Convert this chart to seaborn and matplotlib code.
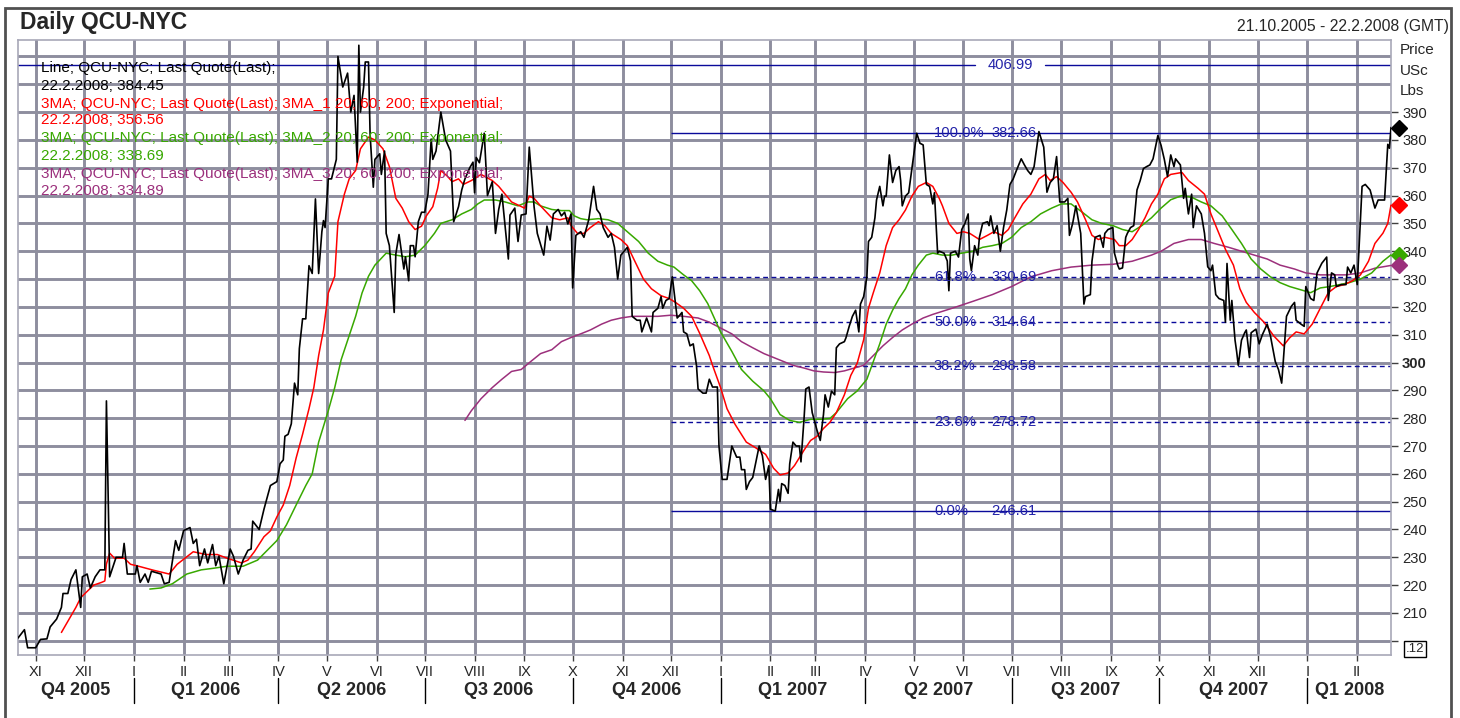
import pandas as pd
import matplotlib
matplotlib.use("Agg")
import matplotlib.pyplot as plt
import matplotlib.transforms as mtransforms
from matplotlib.patches import Rectangle
import seaborn as sns

# ==============================================================================
# Daily QCU-NYC (copper, USc/Lbs) with 20/60/200 exponential MAs and a
# Fibonacci retracement.
# ==============================================================================

# ------------------------- Price (Last Quote) -------------------------
price_dates = [
    "2005-10-21", "2005-10-25", "2005-10-27", "2005-11-01", "2005-11-04", "2005-11-08", "2005-11-10",
    "2005-11-14", "2005-11-17", "2005-11-18", "2005-11-21", "2005-11-23", "2005-11-26", "2005-11-27",
    "2005-11-29", "2005-11-30", "2005-12-03", "2005-12-05", "2005-12-08", "2005-12-11", "2005-12-14",
    "2005-12-15", "2005-12-17", "2005-12-21", "2005-12-25", "2005-12-26", "2005-12-28", "2006-01-02",
    "2006-01-03", "2006-01-05", "2006-01-08", "2006-01-10", "2006-01-12", "2006-01-18", "2006-01-20",
    "2006-01-23", "2006-01-27", "2006-01-29", "2006-02-01", "2006-02-05", "2006-02-07", "2006-02-09",
    "2006-02-11", "2006-02-14", "2006-02-16", "2006-02-19", "2006-02-21", "2006-02-23", "2006-02-26",
    "2006-03-02", "2006-03-04", "2006-03-07", "2006-03-10", "2006-03-13", "2006-03-15", "2006-03-16",
    "2006-03-20", "2006-03-23", "2006-03-27", "2006-03-31", "2006-04-02", "2006-04-04", "2006-04-05",
    "2006-04-07", "2006-04-09", "2006-04-11", "2006-04-13", "2006-04-14", "2006-04-16", "2006-04-18",
    "2006-04-20", "2006-04-22", "2006-04-24", "2006-04-26", "2006-04-28", "2006-04-29", "2006-04-30",
    "2006-05-02", "2006-05-04", "2006-05-07", "2006-05-08", "2006-05-11", "2006-05-14", "2006-05-16",
    "2006-05-18", "2006-05-20", "2006-05-21", "2006-05-22", "2006-05-24", "2006-05-25", "2006-05-27",
    "2006-05-28", "2006-05-30", "2006-05-31", "2006-06-03", "2006-06-04", "2006-06-06", "2006-06-07",
    "2006-06-09", "2006-06-12", "2006-06-13", "2006-06-15", "2006-06-18", "2006-06-19", "2006-06-21",
    "2006-06-22", "2006-06-24", "2006-06-25", "2006-06-27", "2006-06-29", "2006-07-01", "2006-07-03",
    "2006-07-05", "2006-07-06", "2006-07-08", "2006-07-11", "2006-07-14", "2006-07-17", "2006-07-19",
    "2006-07-22", "2006-07-24", "2006-07-26", "2006-07-29", "2006-07-31", "2006-08-01", "2006-08-02",
    "2006-08-04", "2006-08-07", "2006-08-09", "2006-08-12", "2006-08-14", "2006-08-16", "2006-08-18",
    "2006-08-22", "2006-08-23", "2006-08-26", "2006-08-28", "2006-08-30", "2006-09-02", "2006-09-04",
    "2006-09-07", "2006-09-09", "2006-09-13", "2006-09-15", "2006-09-17", "2006-09-19", "2006-09-22",
    "2006-09-24", "2006-09-26", "2006-09-28", "2006-09-30", "2006-10-01", "2006-10-03", "2006-10-06",
    "2006-10-08", "2006-10-11", "2006-10-14", "2006-10-16", "2006-10-18", "2006-10-20", "2006-10-23",
    "2006-10-25", "2006-10-27", "2006-10-29", "2006-10-31", "2006-11-02", "2006-11-04", "2006-11-06",
    "2006-11-07", "2006-11-10", "2006-11-12", "2006-11-13", "2006-11-16", "2006-11-19", "2006-11-20",
    "2006-11-23", "2006-11-25", "2006-11-26", "2006-11-28", "2006-11-30", "2006-12-02", "2006-12-05",
    "2006-12-06", "2006-12-08", "2006-12-09", "2006-12-11", "2006-12-13", "2006-12-15", "2006-12-17",
    "2006-12-18", "2006-12-21", "2006-12-23", "2006-12-25", "2006-12-27", "2006-12-30", "2006-12-31",
    "2007-01-02", "2007-01-05", "2007-01-08", "2007-01-11", "2007-01-13", "2007-01-14", "2007-01-16",
    "2007-01-17", "2007-01-19", "2007-01-21", "2007-01-23", "2007-01-25", "2007-01-27", "2007-01-29",
    "2007-01-31", "2007-02-01", "2007-02-04", "2007-02-06", "2007-02-07", "2007-02-08", "2007-02-10",
    "2007-02-12", "2007-02-13", "2007-02-15", "2007-02-17", "2007-02-19", "2007-02-20", "2007-02-22",
    "2007-02-23", "2007-02-25", "2007-02-27", "2007-03-02", "2007-03-04", "2007-03-06", "2007-03-07",
    "2007-03-09", "2007-03-11", "2007-03-13", "2007-03-14", "2007-03-16", "2007-03-19", "2007-03-20",
    "2007-03-22", "2007-03-24", "2007-03-26", "2007-03-28", "2007-03-29", "2007-03-31", "2007-04-02",
    "2007-04-03", "2007-04-05", "2007-04-07", "2007-04-08", "2007-04-10", "2007-04-12", "2007-04-13",
    "2007-04-14", "2007-04-16", "2007-04-18", "2007-04-20", "2007-04-22", "2007-04-23", "2007-04-24",
    "2007-04-26", "2007-04-28", "2007-04-30", "2007-05-03", "2007-05-05", "2007-05-07", "2007-05-09",
    "2007-05-11", "2007-05-13", "2007-05-14", "2007-05-16", "2007-05-17", "2007-05-20", "2007-05-22",
    "2007-05-23", "2007-05-24", "2007-05-27", "2007-05-29", "2007-05-31", "2007-06-02", "2007-06-04",
    "2007-06-05", "2007-06-06", "2007-06-08", "2007-06-10", "2007-06-11", "2007-06-13", "2007-06-16",
    "2007-06-17", "2007-06-18", "2007-06-20", "2007-06-22", "2007-06-24", "2007-06-26", "2007-06-28",
    "2007-06-30", "2007-07-02", "2007-07-04", "2007-07-07", "2007-07-09", "2007-07-11", "2007-07-13",
    "2007-07-15", "2007-07-18", "2007-07-21", "2007-07-23", "2007-07-25", "2007-07-27", "2007-07-29",
    "2007-07-31", "2007-08-03", "2007-08-05", "2007-08-06", "2007-08-08", "2007-08-10", "2007-08-13",
    "2007-08-15", "2007-08-16", "2007-08-19", "2007-08-20", "2007-08-22", "2007-08-25", "2007-08-27",
    "2007-08-28", "2007-08-30", "2007-09-02", "2007-09-03", "2007-09-05", "2007-09-06", "2007-09-08",
    "2007-09-10", "2007-09-11", "2007-09-13", "2007-09-15", "2007-09-17", "2007-09-19", "2007-09-21",
    "2007-09-23", "2007-09-25", "2007-09-27", "2007-09-30", "2007-10-02", "2007-10-04", "2007-10-06",
    "2007-10-08", "2007-10-10", "2007-10-11", "2007-10-14", "2007-10-16", "2007-10-17", "2007-10-19",
    "2007-10-21", "2007-10-22", "2007-10-24", "2007-10-27", "2007-10-29", "2007-10-31", "2007-11-02",
    "2007-11-03", "2007-11-05", "2007-11-07", "2007-11-10", "2007-11-11", "2007-11-12", "2007-11-14",
    "2007-11-15", "2007-11-17", "2007-11-18", "2007-11-19", "2007-11-21", "2007-11-23", "2007-11-24",
    "2007-11-26", "2007-11-27", "2007-11-30", "2007-12-02", "2007-12-04", "2007-12-07", "2007-12-09",
    "2007-12-12", "2007-12-14", "2007-12-16", "2007-12-17", "2007-12-19", "2007-12-22", "2007-12-24",
    "2007-12-25", "2007-12-28", "2007-12-30", "2007-12-31", "2008-01-03", "2008-01-05", "2008-01-07",
    "2008-01-10", "2008-01-13", "2008-01-14", "2008-01-16", "2008-01-18", "2008-01-19", "2008-01-22",
    "2008-01-25", "2008-01-26", "2008-01-28", "2008-01-30", "2008-02-01", "2008-02-04", "2008-02-06",
    "2008-02-09", "2008-02-12", "2008-02-14", "2008-02-18", "2008-02-20", "2008-02-21", "2008-02-22",
]
price_vals = [
    201, 204, 197.5, 197.5, 200.5, 200.7, 205,
    207.8, 212, 217, 217, 222, 225.5, 221,
    212, 223, 224, 219, 223, 225.5, 225.5,
    286.2, 223, 230, 230, 235, 224, 224,
    227, 221, 224, 221, 225, 224, 220.5,
    221, 236, 232.5, 239.6, 240.7, 235, 236.5,
    227, 233, 228, 234.6, 227, 230.4, 220.5,
    233, 230.4, 224, 229, 232.5, 233, 243,
    240, 247.3, 255.8, 257.2, 263.6, 265, 273.5,
    274.2, 278, 292.6, 288.4, 305, 315.7, 315.7,
    334.8, 332, 358.8, 332, 347, 351, 348.5,
    366, 366, 373, 410, 399, 404, 390,
    396, 372, 414, 390, 399, 408, 408,
    382, 363, 373, 375, 367.6, 376, 346.4,
    342, 318, 339, 346, 333.6, 338, 329.4,
    342, 342, 338, 350.6, 354, 354, 360.5,
    380.3, 373, 376, 390, 380, 376, 350.6,
    356, 362, 366, 370, 372, 361, 373.7,
    371.8, 382.4, 360, 365, 346.4, 355, 360.5,
    337.2, 353, 355.5, 343.5, 353, 353.4, 377.4,
    356, 346.4, 338.6, 349, 344, 353.4, 355,
    352.7, 354, 349.8, 353.4, 326.8, 345.7, 347,
    345, 351.3, 363.3, 355, 353.4, 348.5, 345,
    346.4, 341.4, 330, 338.6, 340, 341.4, 336.5,
    316.6, 315.2, 315.2, 311, 316, 311, 318,
    319.5, 323.7, 319.5, 322.3, 323, 330.8, 316,
    316.6, 318, 311, 310.3, 306, 306.7, 299,
    290.5, 289, 289, 294, 291.2, 291.2, 270,
    258, 258, 270, 266, 266, 261.5, 261.5,
    254.4, 257.2, 258.7, 264.3, 270, 266.5, 258,
    262.9, 247.3, 246.6, 254.4, 250, 256.5, 255.8,
    253, 263.6, 271.4, 270, 270, 264.3, 280.6,
    290.5, 291.2, 282, 275.6, 272, 281.3, 288.4,
    284, 289.7, 288.4, 305.3, 306.7, 307.5, 308.9,
    313, 316.6, 318.8, 311, 321, 323.7, 330.8,
    343.5, 345, 352, 358.4, 363.3, 356.3, 359.8,
    359.8, 374.6, 364.7, 369, 370.4, 365.4, 356.3,
    359.8, 361, 369.7, 382.4, 378.8, 378.2, 364,
    363.3, 357, 361, 339.3, 340, 339.3, 336.5,
    325.8, 339.3, 340, 337.9, 347.8, 350, 353.4,
    337.2, 333, 342, 338.6, 345, 350, 350.6,
    349.2, 352.7, 346.4, 349.2, 340, 348.5, 354.8,
    364, 366, 369, 373.2, 371, 369, 367.6,
    370.4, 383, 377.4, 361.2, 364.7, 366, 374,
    357.7, 357.7, 359, 345.7, 350, 356.3, 346.4,
    321, 323.7, 324.4, 336.4, 345, 345.7, 341.4,
    346.4, 347.8, 348.5, 339.3, 335, 333.6, 334,
    345, 346.4, 348.5, 349.2, 362, 365.4, 369.7,
    370.4, 371, 373.2, 381.6, 378, 373, 366.8,
    374.6, 370.4, 373.2, 371, 359, 362.6, 353.4,
    360.5, 348.5, 356.3, 353.4, 346.4, 334.4, 333,
    335, 324.4, 323, 322.3, 314.5, 335.6, 315.2,
    322.3, 308, 303.9, 299, 308, 310.7, 311.7,
    301.8, 310.7, 312, 306.7, 310, 313.8, 309.6,
    300.4, 297.5, 292.6, 300.4, 316.6, 320.2, 321.6,
    315.2, 313.8, 313, 327.3, 323, 322.3, 332.2,
    335.7, 337.9, 322.3, 332.2, 331.5, 327.3, 328,
    328, 334.3, 332.2, 335, 328, 363.3, 364,
    362, 355.5, 358.4, 358.4, 378.4, 377, 384.45,
]

# ------------------------- 3MA_1 : 20 day exponential -------------------------
ema20_dates = [
    "2005-11-17", "2005-11-21", "2005-11-26", "2005-11-29", "2005-12-07", "2005-12-12", "2005-12-14",
    "2005-12-15", "2005-12-17", "2005-12-20", "2005-12-26", "2005-12-30", "2006-01-04", "2006-01-13",
    "2006-01-23", "2006-01-28", "2006-02-07", "2006-02-15", "2006-02-22", "2006-02-28", "2006-03-09",
    "2006-03-13", "2006-03-17", "2006-03-23", "2006-03-27", "2006-03-31", "2006-04-04", "2006-04-08",
    "2006-04-12", "2006-04-16", "2006-04-20", "2006-04-23", "2006-04-26", "2006-04-29", "2006-05-02",
    "2006-05-06", "2006-05-08", "2006-05-12", "2006-05-15", "2006-05-19", "2006-05-22", "2006-05-27",
    "2006-05-31", "2006-06-05", "2006-06-09", "2006-06-13", "2006-06-17", "2006-06-21", "2006-06-25",
    "2006-06-29", "2006-07-02", "2006-07-06", "2006-07-09", "2006-07-11", "2006-07-15", "2006-07-18",
    "2006-07-22", "2006-07-25", "2006-07-30", "2006-08-05", "2006-08-12", "2006-08-16", "2006-08-20",
    "2006-08-24", "2006-08-29", "2006-09-01", "2006-09-04", "2006-09-07", "2006-09-11", "2006-09-18",
    "2006-09-23", "2006-09-28", "2006-09-30", "2006-10-04", "2006-10-08", "2006-10-12", "2006-10-17",
    "2006-10-21", "2006-10-25", "2006-10-31", "2006-11-04", "2006-11-08", "2006-11-14", "2006-11-19",
    "2006-11-25", "2006-11-30", "2006-12-04", "2006-12-09", "2006-12-14", "2006-12-19", "2006-12-25",
    "2006-12-27", "2007-01-01", "2007-01-05", "2007-01-10", "2007-01-17", "2007-01-23", "2007-01-29",
    "2007-02-03", "2007-02-07", "2007-02-12", "2007-02-16", "2007-02-22", "2007-02-26", "2007-03-02",
    "2007-03-06", "2007-03-10", "2007-03-14", "2007-03-19", "2007-03-23", "2007-03-27", "2007-03-31",
    "2007-04-03", "2007-04-06", "2007-04-10", "2007-04-14", "2007-04-18", "2007-04-22", "2007-04-26",
    "2007-04-30", "2007-05-04", "2007-05-09", "2007-05-13", "2007-05-17", "2007-05-19", "2007-05-23",
    "2007-05-28", "2007-06-01", "2007-06-05", "2007-06-11", "2007-06-16", "2007-06-20", "2007-06-25",
    "2007-06-29", "2007-07-03", "2007-07-08", "2007-07-13", "2007-07-18", "2007-07-22", "2007-07-25",
    "2007-07-29", "2007-08-02", "2007-08-07", "2007-08-11", "2007-08-16", "2007-08-20", "2007-08-24",
    "2007-08-28", "2007-09-03", "2007-09-06", "2007-09-10", "2007-09-14", "2007-09-18", "2007-09-22",
    "2007-09-26", "2007-09-30", "2007-10-04", "2007-10-08", "2007-10-15", "2007-10-19", "2007-10-25",
    "2007-10-29", "2007-11-02", "2007-11-06", "2007-11-11", "2007-11-16", "2007-11-20", "2007-11-24",
    "2007-11-29", "2007-12-05", "2007-12-11", "2007-12-17", "2007-12-21", "2007-12-25", "2007-12-30",
    "2008-01-04", "2008-01-09", "2008-01-14", "2008-01-19", "2008-01-24", "2008-01-29", "2008-02-03",
    "2008-02-08", "2008-02-12", "2008-02-17", "2008-02-20", "2008-02-22",
]
ema20_vals = [
    203, 207, 212, 215.5, 220, 221, 221.5,
    227.6, 231.5, 229.7, 229.7, 227.5, 226.8, 225.4,
    224, 227.5, 232, 231, 231, 229.7, 228,
    229, 232, 237.4, 239.5, 244.5, 248.8, 255.8,
    265.7, 274.2, 283.4, 291, 302.5, 311.7, 325,
    331, 350.6, 360.5, 366, 369, 376.8, 381,
    380, 376.8, 370.4, 359, 355.5, 350.6, 347.8,
    349, 352.7, 356, 362.6, 369, 367, 365,
    366, 364, 365.4, 367.6, 365.4, 363.3, 360.5,
    357.7, 356.3, 355.5, 359.8, 359, 356.3, 352,
    351.3, 352, 349.2, 346.4, 346.4, 348.5, 350.6,
    349.2, 346.4, 344.2, 342, 337.2, 330, 326.5,
    324, 323, 321.6, 319.5, 316.6, 310.5, 302.5,
    299, 291, 283.4, 277.8, 271.4, 269.3, 267,
    262, 259.6, 260.3, 263, 268.6, 272, 273.5,
    276.3, 278.5, 282, 288.4, 295.4, 299.8, 308.2,
    319.5, 325.1, 332.2, 342, 348.5, 351.3, 354.8,
    359.8, 363.3, 364.7, 363.3, 359, 356.3, 350,
    346.4, 347, 346.4, 344.2, 345.7, 347, 345.7,
    347.8, 352, 357, 360.5, 366, 367.6, 365.4,
    366.8, 364.7, 361.2, 357.7, 351.3, 345.7, 344.2,
    345, 344.2, 342, 342, 344.2, 347.8, 352,
    357, 360.5, 366, 367.6, 368.3, 365.4, 362.6,
    360.5, 353.4, 347.8, 340.7, 335, 326.5, 321.6,
    318, 314.5, 309.6, 306, 308.9, 311, 310.3,
    313.8, 319.5, 325.1, 327.3, 328, 329.4, 331.5,
    336.4, 342.8, 346.5, 350, 356.56,
]

# ------------------------- 3MA_2 : 60 day exponential -------------------------
ema60_dates = [
    "2006-01-11", "2006-01-18", "2006-01-25", "2006-02-03", "2006-02-12", "2006-02-20", "2006-02-28",
    "2006-03-10", "2006-03-19", "2006-03-25", "2006-03-31", "2006-04-06", "2006-04-12", "2006-04-18",
    "2006-04-22", "2006-04-26", "2006-05-02", "2006-05-06", "2006-05-10", "2006-05-15", "2006-05-19",
    "2006-05-23", "2006-05-27", "2006-05-31", "2006-06-07", "2006-06-13", "2006-06-19", "2006-06-25",
    "2006-07-01", "2006-07-07", "2006-07-11", "2006-07-18", "2006-07-24", "2006-07-30", "2006-08-03",
    "2006-08-07", "2006-08-14", "2006-08-20", "2006-08-28", "2006-09-03", "2006-09-07", "2006-09-11",
    "2006-09-18", "2006-09-24", "2006-09-29", "2006-10-02", "2006-10-06", "2006-10-10", "2006-10-17",
    "2006-10-23", "2006-10-29", "2006-11-04", "2006-11-11", "2006-11-17", "2006-11-23", "2006-11-29",
    "2006-12-03", "2006-12-09", "2006-12-14", "2006-12-19", "2006-12-24", "2007-01-01", "2007-01-08",
    "2007-01-14", "2007-01-21", "2007-01-28", "2007-02-01", "2007-02-07", "2007-02-13", "2007-02-19",
    "2007-02-26", "2007-03-04", "2007-03-10", "2007-03-14", "2007-03-21", "2007-03-27", "2007-04-02",
    "2007-04-06", "2007-04-10", "2007-04-14", "2007-04-18", "2007-04-22", "2007-04-26", "2007-04-30",
    "2007-05-04", "2007-05-09", "2007-05-13", "2007-05-19", "2007-05-25", "2007-05-31", "2007-06-07",
    "2007-06-13", "2007-06-19", "2007-06-25", "2007-07-01", "2007-07-07", "2007-07-13", "2007-07-19",
    "2007-07-26", "2007-08-01", "2007-08-07", "2007-08-14", "2007-08-20", "2007-08-26", "2007-09-02",
    "2007-09-08", "2007-09-14", "2007-09-20", "2007-09-26", "2007-10-02", "2007-10-08", "2007-10-15",
    "2007-10-21", "2007-10-27", "2007-11-02", "2007-11-09", "2007-11-15", "2007-11-21", "2007-11-27",
    "2007-12-03", "2007-12-09", "2007-12-15", "2007-12-21", "2007-12-27", "2008-01-03", "2008-01-09",
    "2008-01-15", "2008-01-21", "2008-01-27", "2008-02-03", "2008-02-10", "2008-02-17", "2008-02-22",
]
ema60_vals = [
    218.6, 219, 220.5, 224, 225.5, 226.1, 226.8,
    226.8, 229, 232.5, 236, 241.7, 248.8, 255.8,
    260, 271.4, 282.7, 291, 301, 309.6, 316.6,
    325, 331, 335, 339.3, 338.6, 338, 338.6,
    342, 346.4, 350, 351.3, 353.4, 355, 357,
    358.4, 358.4, 357.7, 356.3, 357.7, 357.7, 356.3,
    355, 354.6, 354.6, 352.7, 351.7, 351.3, 351.7,
    351.3, 350, 347, 343.5, 339.3, 336.4, 335,
    334.3, 331.5, 329.4, 325.8, 321.2, 311, 304,
    297.5, 293.3, 289.8, 287, 281.3, 279.2, 278.5,
    279.6, 279.6, 279.9, 282, 287, 289.8, 294,
    300.4, 306.7, 313.8, 318.8, 323, 326.5, 331.5,
    335, 338.6, 339.3, 338.6, 338.6, 339.3, 340,
    341.4, 342, 342.8, 345, 348.5, 350.6, 353.4,
    355.5, 357, 357, 354, 351.3, 350, 349.2,
    347.8, 347, 349.2, 352, 355.5, 358.5, 360,
    359.4, 357.7, 356.3, 352.7, 347.8, 342.8, 337.2,
    333.6, 330.8, 328.7, 327.3, 326.3, 325.1, 326.8,
    327.3, 328, 328.7, 330, 332.2, 336.4, 338.69,
]

# ------------------------- 3MA_3 : 200 day exponential -------------------------
ema200_dates = [
    "2006-07-26", "2006-07-30", "2006-08-05", "2006-08-12", "2006-08-18", "2006-08-24", "2006-08-30",
    "2006-09-05", "2006-09-11", "2006-09-18", "2006-09-24", "2006-09-30", "2006-10-06", "2006-10-12",
    "2006-10-19", "2006-10-25", "2006-10-31", "2006-11-07", "2006-11-15", "2006-11-23", "2006-12-01",
    "2006-12-09", "2006-12-18", "2006-12-25", "2007-01-01", "2007-01-08", "2007-01-14", "2007-01-21",
    "2007-01-28", "2007-02-03", "2007-02-09", "2007-02-15", "2007-02-22", "2007-02-28", "2007-03-06",
    "2007-03-13", "2007-03-19", "2007-03-25", "2007-03-31", "2007-04-06", "2007-04-12", "2007-04-18",
    "2007-04-24", "2007-04-30", "2007-05-07", "2007-05-13", "2007-05-25", "2007-06-07", "2007-06-19",
    "2007-07-01", "2007-07-13", "2007-07-26", "2007-08-07", "2007-08-20", "2007-09-02", "2007-09-14",
    "2007-09-26", "2007-10-02", "2007-10-10", "2007-10-19", "2007-10-27", "2007-11-04", "2007-11-13",
    "2007-11-21", "2007-11-29", "2007-12-07", "2007-12-15", "2007-12-24", "2007-12-31", "2008-01-09",
    "2008-01-17", "2008-01-25", "2008-02-03", "2008-02-12", "2008-02-22",
]
ema200_vals = [
    279.2, 282.7, 287, 291, 294, 296.8, 297.5,
    300.4, 303.2, 304.6, 307.5, 309, 310.3, 311.7,
    313.8, 315.2, 316, 316.6, 316.6, 316.6, 317,
    316.6, 316, 314.5, 312.4, 310.3, 307.5, 305.3,
    303.2, 301.8, 300.4, 299, 298, 297, 296.6,
    296.4, 297, 298, 299, 302.5, 306, 309,
    311.7, 313.8, 316, 317.3, 319.5, 322, 324.4,
    327.3, 330.8, 333, 334.3, 335, 335.3, 336.4,
    338.6, 340, 342.8, 344.2, 344.2, 342.8, 341.4,
    340, 338.6, 337.2, 335, 333.6, 332.2, 331.5,
    331.5, 331.5, 332.2, 333.9, 334.89,
]

# ------------------------- Annotations -------------------------
last_date = "22.2.2008"
last_vals = [384.45, 356.56, 338.69, 334.89]
series_colors = ["#000000", "#ff0000", "#38a800", "#9c307c"]
legend_lines = [
    "Line; QCU-NYC; Last Quote(Last);",
    "3MA; QCU-NYC; Last Quote(Last); 3MA_1 20; 60; 200; Exponential;",
    "3MA; QCU-NYC; Last Quote(Last); 3MA_2 20; 60; 200; Exponential;",
    "3MA; QCU-NYC; Last Quote(Last); 3MA_3 20; 60; 200; Exponential;",
]

fib_labels = ["100.0%", "61.8%", "50.0%", "38.2%", "23.6%", "0.0%"]
fib_vals = [382.66, 330.69, 314.64, 298.58, 278.72, 246.61]
fib_solid = [True, False, False, False, False, True]
fib_start = "2006-12-01"
top_level = 406.99

y_ticks = list(range(210, 400, 10))
grid_levels = list(range(200, 420, 10))
roman = ["I", "II", "III", "IV", "V", "VI", "VII", "VIII", "IX", "X", "XI", "XII"]

x_start, x_end = pd.Timestamp("2005-10-21"), pd.Timestamp("2008-02-22")

# ------------------------- Figure -------------------------
sns.set_theme(style="white")
plt.rcParams['font.family'] = ['Liberation Sans', 'DejaVu Sans']

W, H = 1460, 718
fig = plt.figure(figsize=(W / 100, H / 100), dpi=100)
fig.patch.set_facecolor("white")
L, R, T, B = 18, 1391, 40, 655
ax = fig.add_axes([L / W, 1 - B / H, (R - L) / W, (B - T) / H])


def fpx(x, y):
    return x / W, 1 - y / H


grid_color = "#8e8e9e"
navy = "#0a0a9a"
fib_text = "#2222a8"

# grid
for lvl in grid_levels:
    ax.axhline(lvl, color=grid_color, lw=2.1, zorder=0)
month_starts = pd.date_range("2005-11-01", "2008-02-01", freq="MS")
for m in month_starts:
    ax.axvline(m, color=grid_color, lw=2.1, zorder=0)

# series
df_p = pd.DataFrame({"date": pd.to_datetime(price_dates), "v": price_vals})
df_20 = pd.DataFrame({"date": pd.to_datetime(ema20_dates), "v": ema20_vals})
df_60 = pd.DataFrame({"date": pd.to_datetime(ema60_dates), "v": ema60_vals})
df_200 = pd.DataFrame({"date": pd.to_datetime(ema200_dates), "v": ema200_vals})

sns.lineplot(data=df_200, x="date", y="v", ax=ax, color=series_colors[3], lw=1.1, estimator=None, zorder=3)
sns.lineplot(data=df_60, x="date", y="v", ax=ax, color=series_colors[2], lw=1.1, estimator=None, zorder=3)
sns.lineplot(data=df_20, x="date", y="v", ax=ax, color=series_colors[1], lw=1.1, estimator=None, zorder=4)
sns.lineplot(data=df_p, x="date", y="v", ax=ax, color=series_colors[0], lw=1.2, estimator=None, zorder=5)

# fibonacci retracement
trb = mtransforms.blended_transform_factory(ax.transAxes, ax.transData)
for lab, val, solid in zip(fib_labels, fib_vals, fib_solid):
    ax.hlines(val, pd.Timestamp(fib_start), x_end, color=navy, lw=1.0,
              linestyles="solid" if solid else (0, (3.5, 2.5)), zorder=2)
    ax.text((934 - L) / (R - L), val, lab, transform=trb, color=fib_text, fontsize=10.6,
            va="center", ha="left", zorder=6)
    ax.text((991 - L) / (R - L), val, f"{val:.2f}", transform=trb, color=fib_text, fontsize=10.6,
            va="center", ha="left", zorder=6)

ax.plot([0, (975 - L) / (R - L)], [top_level, top_level], transform=trb, color=navy, lw=1.0, zorder=2)
ax.plot([(1045 - L) / (R - L), 1], [top_level, top_level], transform=trb, color=navy, lw=1.0, zorder=2)
ax.text((1010 - L) / (R - L), top_level, f"{top_level:.2f}", transform=trb, color=fib_text,
        fontsize=10.6, va="center", ha="center", zorder=6)

# last value diamonds on the right edge
for val, c in zip(last_vals, series_colors):
    ax.plot([1.0058], [val], transform=trb, marker="D", ms=8, color=c, clip_on=False, zorder=7)

# axes limits / ticks
ax.set_xlim(x_start, x_end)
ax.set_ylim(194.9, 415.9)
ax.set_xlabel("")
ax.set_ylabel("")

ax.yaxis.tick_right()
ax.set_yticks([200] + y_ticks)
ax.set_yticklabels([""] + [str(t) for t in y_ticks])
ax.tick_params(axis="y", which="major", direction="out", length=5, width=1, color="#404040",
               labelsize=10.6, pad=3, right=True, left=False)
for lbl in ax.get_yticklabels():
    if lbl.get_text() == "300":
        lbl.set_fontweight("bold")

ax.set_xticks(month_starts)
ax.set_xticklabels([roman[m.month - 1] for m in month_starts])
ax.tick_params(axis="x", which="major", direction="out", length=4, width=1, color="#404040",
               labelsize=10.5, pad=3, bottom=True)

for sp in ax.spines.values():
    sp.set_color("#a8a8b8")
    sp.set_linewidth(1.2)

# quarter labels under the month numerals
trq = mtransforms.blended_transform_factory(ax.transData, ax.transAxes)
q_starts = pd.date_range("2006-01-01", "2008-01-01", freq="QS")
bounds = [x_start] + list(q_starts) + [x_end]
for a, b in zip(bounds[:-1], bounds[1:]):
    q = (a.month - 1) // 3 + 1
    mid = a + (b - a) / 2
    ax.text(mid, -0.057, f"Q{q} {a.year}", transform=trq, ha="center", va="center",
            fontsize=13, fontweight="bold", clip_on=False)
for qs in q_starts:
    ax.plot([qs, qs], [-0.037, -0.078], transform=trq, color="black", lw=1.0, clip_on=False)

# legend block
legend_y = [68, 86, 104, 120, 138, 156, 174, 191]
for i, (txt, val, c) in enumerate(zip(legend_lines, last_vals, series_colors)):
    fig.text(*fpx(41, legend_y[2 * i]), txt, color=c, fontsize=11, va="center", ha="left")
    fig.text(*fpx(41, legend_y[2 * i + 1]), f"{last_date}; {val:.2f}", color=c, fontsize=11,
             va="center", ha="left")

# header texts
fig.text(*fpx(20, 22), "Daily QCU-NYC", fontsize=16.5, fontweight="bold", va="center", ha="left")
fig.text(*fpx(1449, 27), "21.10.2005 - 22.2.2008 (GMT)", fontsize=11.3, va="center", ha="right")
for txt, yy in zip(["Price", "USc", "Lbs"], [50, 71, 91]):
    fig.text(*fpx(1400, yy), txt, fontsize=11, va="center", ha="left")
fig.text(*fpx(1406, 649), ".12", fontsize=9.5, va="center", ha="left",
         bbox=dict(boxstyle="square,pad=0.15", fc="white", ec="black", lw=1))

# outer frame
fig.add_artist(Rectangle((5 / W, -0.01), (1451 - 5) / W, 1 - 8 / H + 0.01, transform=fig.transFigure,
                         fill=False, ec="#505050", lw=2))

fig.savefig("out.png", dpi=100)
plt.close(fig)
